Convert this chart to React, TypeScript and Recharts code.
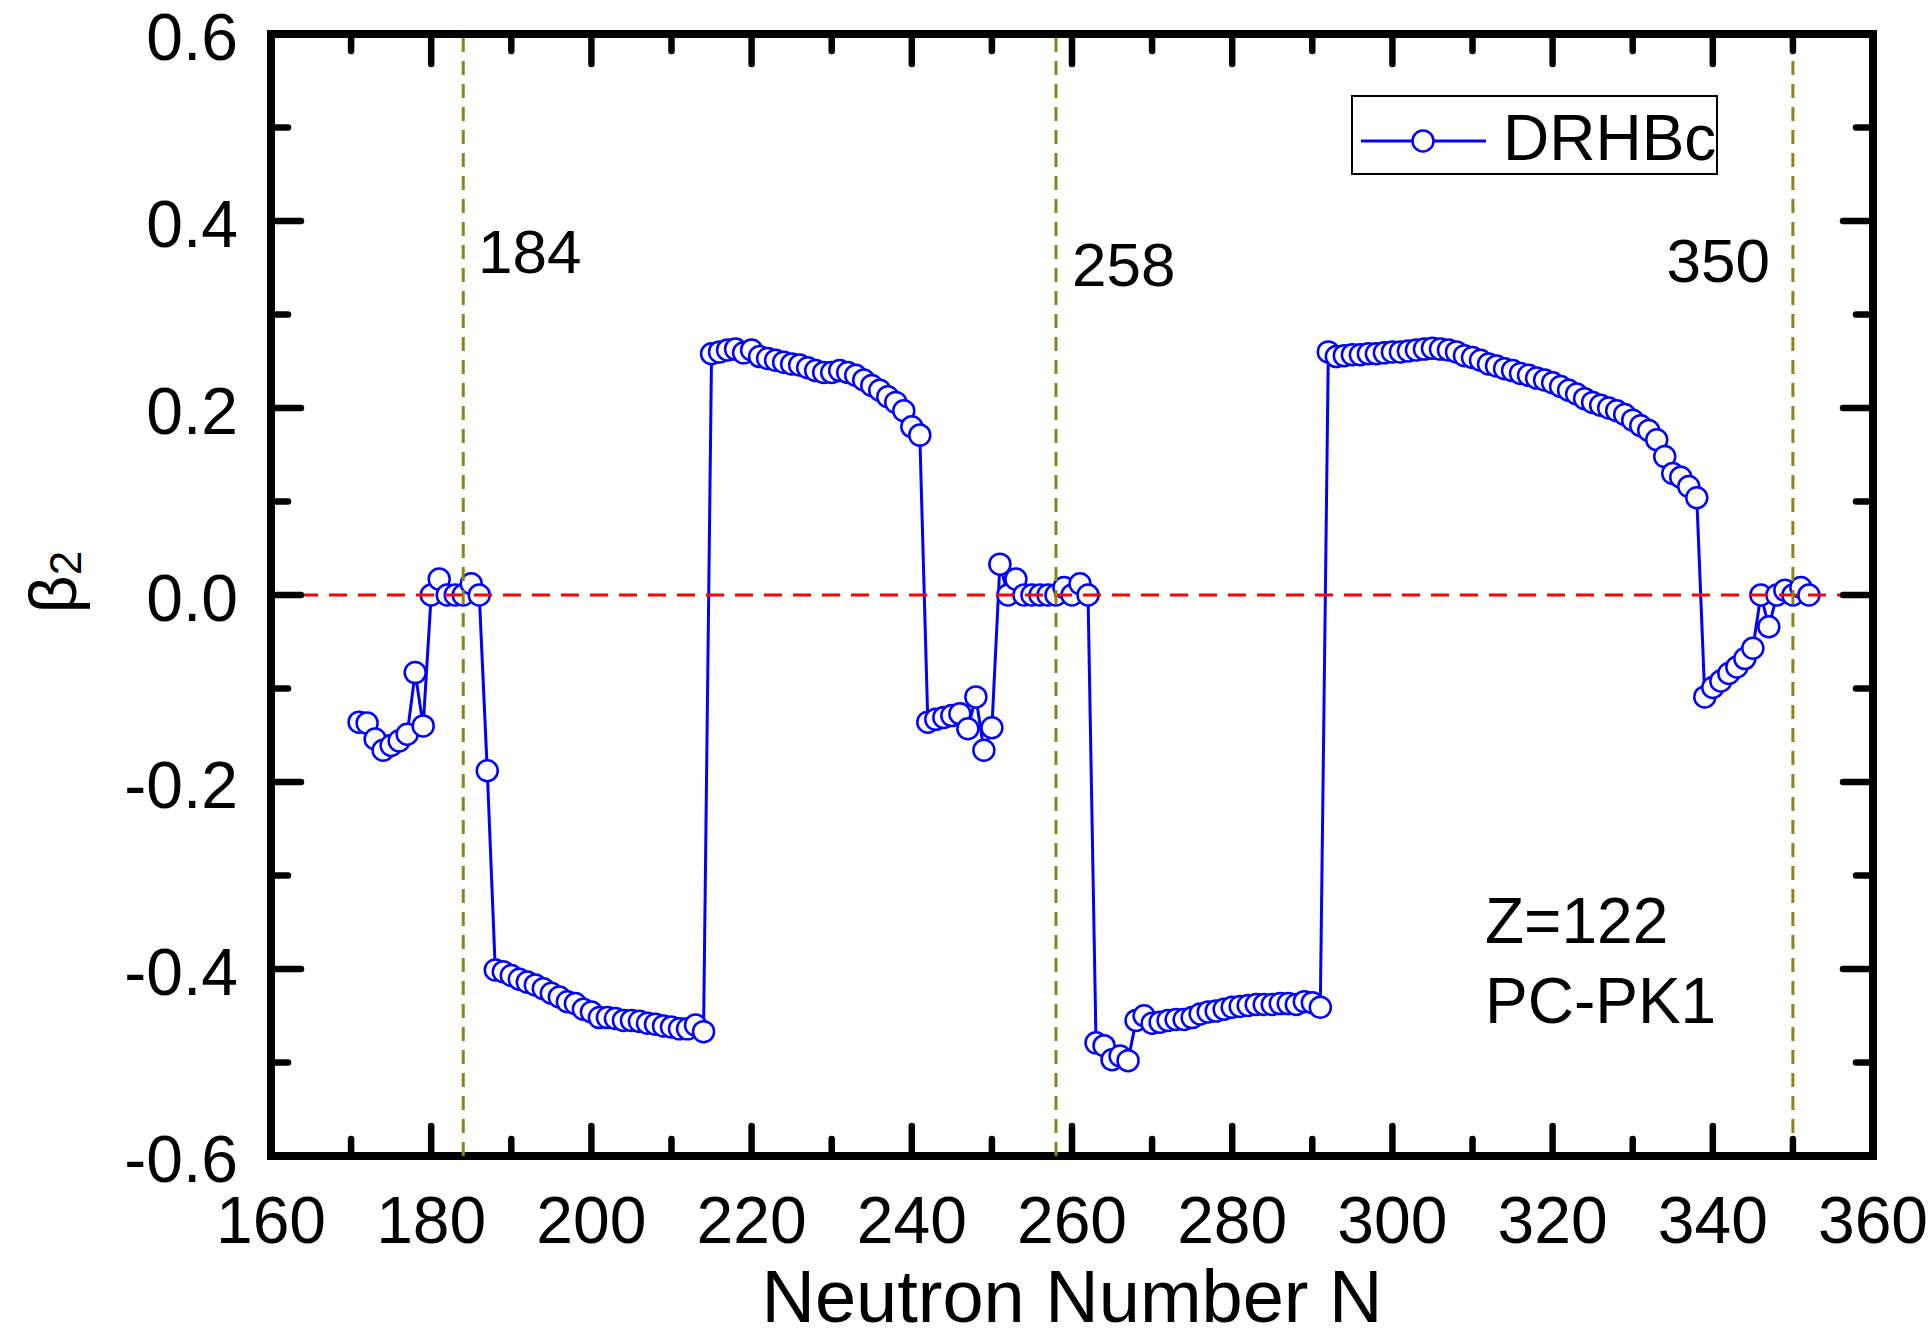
import { LineChart, Line, XAxis, YAxis, ReferenceLine, ReferenceArea, Legend } from "recharts";

const FONT = '"Liberation Sans", Arial, Helvetica, sans-serif';
const BLUE = "#0000ff";
const OLIVE = "#86861a";

// beta_2 of Z=122 isotopes, one value per neutron number
const beta171 = [-0.136, -0.137, -0.154, -0.166, -0.161, -0.156, -0.149, -0.083, -0.14, 0.0, 0.017, 0.0, 0.0, 0.0, 0.012, 0.0, -0.188];
const beta188 = [
  -0.401, -0.403, -0.407, -0.411, -0.414, -0.417, -0.421, -0.426, -0.43, -0.435, -0.437, -0.443, -0.446, -0.452,
  -0.452, -0.453, -0.455, -0.455, -0.456, -0.458, -0.459, -0.461, -0.462, -0.464, -0.464, -0.46, -0.467,
];
const beta215 = [
  0.258, 0.26, 0.262, 0.263, 0.259, 0.262, 0.255, 0.253, 0.251, 0.249, 0.247, 0.246, 0.243, 0.24, 0.238, 0.238,
  0.24, 0.238, 0.235, 0.23, 0.224, 0.219, 0.212, 0.206, 0.197, 0.18, 0.171,
];
const beta242 = [-0.136, -0.133, -0.131, -0.129, -0.127, -0.143, -0.109, -0.166, -0.142, 0.033, 0.0, 0.017, 0.0, 0.0, 0.0, 0.0, 0.0, 0.008, 0.0, 0.012, 0.0];
const beta263 = [
  -0.479, -0.482, -0.497, -0.493, -0.498, -0.455, -0.45, -0.458, -0.457, -0.455, -0.454, -0.454, -0.452, -0.448,
  -0.446, -0.445, -0.443, -0.441, -0.44, -0.439, -0.438, -0.438, -0.438, -0.437, -0.437, -0.438, -0.435, -0.436, -0.441,
];
const beta292 = [
  0.26, 0.255, 0.256, 0.257, 0.257, 0.258, 0.258, 0.259, 0.26, 0.26, 0.261, 0.262, 0.263, 0.264, 0.263, 0.262,
  0.26, 0.256, 0.254, 0.251, 0.247, 0.245, 0.242, 0.24, 0.237, 0.235, 0.232, 0.23, 0.227, 0.223, 0.219, 0.215,
  0.21, 0.206, 0.203, 0.2, 0.197, 0.193, 0.187, 0.181, 0.176, 0.166, 0.148, 0.13, 0.126, 0.116, 0.104,
];
const beta339 = [-0.109, -0.099, -0.092, -0.084, -0.077, -0.068, -0.057, 0.0, -0.034, 0.0, 0.005, 0.0, 0.008, 0.0];

// first neutron number of each run above
const segments: [number, number[]][] = [
  [171, beta171],
  [188, beta188],
  [215, beta215],
  [242, beta242],
  [263, beta263],
  [292, beta292],
  [339, beta339],
];

const magicNumbers = [184, 258, 350];
const xDomain = [160, 360];
const yDomain = [-0.6, 0.6];
const xTicks = [160, 170, 180, 190, 200, 210, 220, 230, 240, 250, 260, 270, 280, 290, 300, 310, 320, 330, 340, 350, 360];
const yTicks = [-0.6, -0.5, -0.4, -0.3, -0.2, -0.1, 0, 0.1, 0.2, 0.3, 0.4, 0.5, 0.6];

const data = segments.flatMap(([n0, vals]) => vals.map((b, i) => ({ n: n0 + i, beta: b })));

const isMajorX = (v: number) => v % 20 === 0;
const isMajorY = (v: number) => Math.round(v * 10) % 2 === 0;

function BottomTick({ x, y, payload }: any) {
  const major = isMajorX(payload.value);
  return (
    <g>
      <line x1={x} x2={x} y1={y} y2={y - (major ? 30 : 17)} stroke="#000" strokeWidth={6.5} strokeLinecap="round" />
      {major && (
        <text x={x} y={y + 87} textAnchor="middle" fontSize={66} fontFamily={FONT} fill="#000">
          {payload.value}
        </text>
      )}
    </g>
  );
}

function TopTick({ x, y, payload }: any) {
  const major = isMajorX(payload.value);
  return <line x1={x} x2={x} y1={y} y2={y + (major ? 30 : 17)} stroke="#000" strokeWidth={6.5} strokeLinecap="round" />;
}

function LeftTick({ x, y, payload }: any) {
  const major = isMajorY(payload.value);
  return (
    <g>
      <line x1={x} x2={x + (major ? 30 : 17)} y1={y} y2={y} stroke="#000" strokeWidth={6.5} strokeLinecap="round" />
      {major && (
        <text x={x - 33} y={y + 26} textAnchor="end" fontSize={66} fontFamily={FONT} fill="#000">
          {Number(payload.value).toFixed(1)}
        </text>
      )}
    </g>
  );
}

function RightTick({ x, y, payload }: any) {
  const major = isMajorY(payload.value);
  return <line x1={x} x2={x - (major ? 30 : 17)} y1={y} y2={y} stroke="#000" strokeWidth={6.5} strokeLinecap="round" />;
}

function LegendBox() {
  return (
    <div style={{ width: 367, height: 80, border: "2px solid #000", boxSizing: "border-box", background: "#fff" }}>
      <svg width={363} height={76} style={{ display: "block" }}>
        <line x1={8} x2={133} y1={44} y2={44} stroke={BLUE} strokeWidth={3} />
        <circle cx={70} cy={44} r={10.5} fill="#fff" stroke={BLUE} strokeWidth={2.5} />
        <text x={150} y={63} fontSize={64} fontFamily={FONT} fill="#000">
          DRHBc
        </text>
      </svg>
    </div>
  );
}

export default function App() {
  return (
    <div style={{ position: "absolute", left: 0, top: 0, width: 1932, height: 1340, background: "#fff" }}>
      <LineChart width={1932} height={1340} data={data} margin={{ top: 33, right: 58, bottom: 183, left: 270 }}>
        <XAxis
          dataKey="n"
          type="number"
          domain={xDomain}
          ticks={xTicks}
          interval={0}
          height={1}
          tickSize={0}
          tickMargin={0}
          axisLine={false}
          tickLine={false}
          tick={BottomTick}
        />
        <XAxis
          xAxisId="top"
          dataKey="n"
          orientation="top"
          type="number"
          domain={xDomain}
          ticks={xTicks}
          interval={0}
          height={1}
          tickSize={0}
          tickMargin={0}
          axisLine={false}
          tickLine={false}
          tick={TopTick}
        />
        <YAxis
          type="number"
          domain={yDomain}
          ticks={yTicks}
          interval={0}
          width={1}
          tickSize={0}
          tickMargin={0}
          axisLine={false}
          tickLine={false}
          tick={LeftTick}
        />
        <YAxis
          yAxisId="right"
          orientation="right"
          type="number"
          domain={yDomain}
          ticks={yTicks}
          interval={0}
          width={1}
          tickSize={0}
          tickMargin={0}
          axisLine={false}
          tickLine={false}
          tick={RightTick}
        />
        <Legend
          layout="vertical"
          align="center"
          verticalAlign="middle"
          content={() => <LegendBox />}
          wrapperStyle={{ position: "absolute", left: 1351, top: 95, width: 367, height: 80 }}
        />
        {/* invisible copy so the mirrored top/right axes get a scale */}
        <Line
          xAxisId="top"
          yAxisId="right"
          type="linear"
          dataKey="beta"
          stroke="none"
          dot={false}
          activeDot={false}
          legendType="none"
          isAnimationActive={false}
        />
        <Line
          type="linear"
          dataKey="beta"
          stroke={BLUE}
          strokeWidth={3}
          dot={{ r: 10.5, fill: "#fff", stroke: BLUE, strokeWidth: 2.5 }}
          activeDot={false}
          isAnimationActive={false}
        />
        <ReferenceLine
          segment={[
            { x: xDomain[0], y: 0 },
            { x: xDomain[1], y: 0 },
          ]}
          stroke="#ff0000"
          strokeWidth={3}
          strokeDasharray="18 11"
          zIndex={700}
        />
        {magicNumbers.map((m) => (
          <ReferenceLine key={m} x={m} stroke={OLIVE} strokeWidth={3} strokeDasharray="14 9" zIndex={700} />
        ))}
        <ReferenceArea x1={xDomain[0]} x2={xDomain[1]} y1={yDomain[0]} y2={yDomain[1]} fill="none" fillOpacity={0} stroke="#000" strokeWidth={8} />
        <text x={478} y={273} fontSize={62} fontFamily={FONT} fill="#000">184</text>
        <text x={1072} y={286} fontSize={62} fontFamily={FONT} fill="#000">258</text>
        <text x={1770} y={282} textAnchor="end" fontSize={62} fontFamily={FONT} fill="#000">350</text>
        <text x={1485} y={943} fontSize={64} fontFamily={FONT} fill="#000">Z=122</text>
        <text x={1485} y={1023} fontSize={64} fontFamily={FONT} fill="#000">PC-PK1</text>
        <text x={1072} y={1322} textAnchor="middle" fontSize={74} fontFamily={FONT} fill="#000">
          Neutron Number N
        </text>
        <text x={76} y={582} transform="rotate(-90 76 582)" textAnchor="middle" fontSize={66} fontFamily={FONT} fill="#000">
          β<tspan fontSize={44} dy={5}>2</tspan>
        </text>
      </LineChart>
    </div>
  );
}
